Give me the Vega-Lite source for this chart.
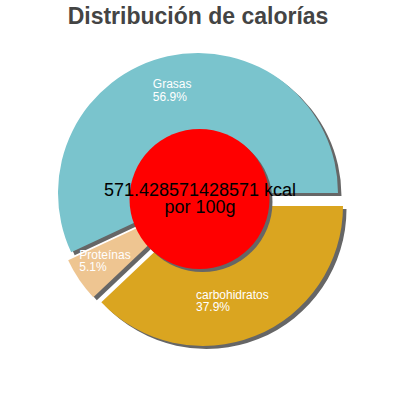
{
  "$schema": "https://vega.github.io/schema/vega-lite/v6.json",
  "width": 396,
  "height": 306,
  "autosize": {"type": "none"},
  "padding": {"top": 40, "left": 0, "right": 4, "bottom": 54},
  "background": "white",
  "config": {"view": {"stroke": null}, "font": "Liberation Sans"},
  "title": {
    "text": "Distribución de calorías",
    "fontSize": 23,
    "fontWeight": "bold",
    "color": "#444444",
    "anchor": "middle",
    "baseline": "alphabetic",
    "offset": 15,
    "dy": 22
  },
  "layer": [
    {
      "data": {
        "values": [
          {"nutriente": "Grasas", "porcentaje": 0.569},
          {"nutriente": "Proteínas", "porcentaje": 0.051},
          {"nutriente": "carbohidratos", "porcentaje": 0.379}
        ]
      },
      "encoding": {
        "theta": {
          "field": "porcentaje",
          "type": "quantitative",
          "stack": true,
          "scale": {"range": [1.5708, -4.7124]}
        },
        "order": {"field": "nutriente", "sort": "ascending"},
        "detail": {"field": "nutriente"}
      },
      "layer": [
        {
          "mark": {"type": "arc", "radius": 140, "xOffset": 3.5, "yOffset": 3},
          "encoding": {
            "color": {"value": "#666666"},
            "opacity": {"condition": {"test": "datum.nutriente === 'Grasas'", "value": 1}, "value": 0}
          }
        },
        {
          "mark": {"type": "arc", "radius": 140, "xOffset": 0.5, "yOffset": 11},
          "encoding": {
            "color": {"value": "#666666"},
            "opacity": {"condition": {"test": "datum.nutriente === 'Proteínas'", "value": 1}, "value": 0}
          }
        },
        {
          "mark": {"type": "arc", "radius": 140, "xOffset": 8.5, "yOffset": 16},
          "encoding": {
            "color": {"value": "#666666"},
            "opacity": {"condition": {"test": "datum.nutriente === 'carbohidratos'", "value": 1}, "value": 0}
          }
        },
        {
          "mark": {"type": "arc", "radius": 140},
          "encoding": {
            "color": {
              "field": "nutriente",
              "type": "nominal",
              "legend": null,
              "scale": {"domain": ["Grasas", "Proteínas", "carbohidratos"], "range": ["#7ac4cd", "#eec591", "#daa520"]}
            },
            "opacity": {"condition": {"test": "datum.nutriente === 'Grasas'", "value": 1}, "value": 0}
          }
        },
        {
          "mark": {"type": "arc", "radius": 140, "xOffset": -3, "yOffset": 8},
          "encoding": {
            "color": {"field": "nutriente", "type": "nominal", "legend": null},
            "opacity": {"condition": {"test": "datum.nutriente === 'Proteínas'", "value": 1}, "value": 0}
          }
        },
        {
          "mark": {"type": "arc", "radius": 140, "xOffset": 5, "yOffset": 13},
          "encoding": {
            "color": {"field": "nutriente", "type": "nominal", "legend": null},
            "opacity": {"condition": {"test": "datum.nutriente === 'carbohidratos'", "value": 1}, "value": 0}
          }
        },
        {
          "mark": {"type": "text", "radius": 100, "align": "left", "baseline": "alphabetic", "fontSize": 12, "color": "white", "dx": -23.5, "dy": -7},
          "encoding": {
            "text": {"field": "nutriente"},
            "opacity": {"condition": {"test": "datum.nutriente === 'Grasas'", "value": 1}, "value": 0}
          }
        },
        {
          "mark": {"type": "text", "radius": 100, "align": "left", "baseline": "alphabetic", "fontSize": 12, "color": "white", "dx": -23.5, "dy": 6},
          "encoding": {
            "text": {"field": "porcentaje", "format": ".1%"},
            "opacity": {"condition": {"test": "datum.nutriente === 'Grasas'", "value": 1}, "value": 0}
          }
        },
        {
          "mark": {"type": "text", "radius": 100, "align": "left", "baseline": "alphabetic", "fontSize": 12, "color": "white", "dx": -36, "dy": 10},
          "encoding": {
            "text": {"field": "nutriente"},
            "opacity": {"condition": {"test": "datum.nutriente === 'Proteínas'", "value": 1}, "value": 0}
          }
        },
        {
          "mark": {"type": "text", "radius": 100, "align": "left", "baseline": "alphabetic", "fontSize": 12, "color": "white", "dx": -36, "dy": 22},
          "encoding": {
            "text": {"field": "porcentaje", "format": ".1%"},
            "opacity": {"condition": {"test": "datum.nutriente === 'Proteínas'", "value": 1}, "value": 0}
          }
        },
        {
          "mark": {"type": "text", "radius": 100, "align": "left", "baseline": "alphabetic", "fontSize": 12, "color": "white", "dx": -39, "dy": 13},
          "encoding": {
            "text": {"field": "nutriente"},
            "opacity": {"condition": {"test": "datum.nutriente === 'carbohidratos'", "value": 1}, "value": 0}
          }
        },
        {
          "mark": {"type": "text", "radius": 100, "align": "left", "baseline": "alphabetic", "fontSize": 12, "color": "white", "dx": -39, "dy": 25},
          "encoding": {
            "text": {"field": "porcentaje", "format": ".1%"},
            "opacity": {"condition": {"test": "datum.nutriente === 'carbohidratos'", "value": 1}, "value": 0}
          }
        }
      ]
    },
    {
      "data": {"values": [{"energia": "571.428571428571 kcal", "base": "por 100g"}]},
      "layer": [
        {
          "mark": {"type": "circle", "size": 19600, "opacity": 1, "color": "#666666", "xOffset": 4.5, "yOffset": 9}
        },
        {
          "mark": {"type": "circle", "size": 19600, "opacity": 1, "color": "#ff0000", "xOffset": 1.5, "yOffset": 6}
        },
        {
          "mark": {"type": "text", "fontSize": 18, "color": "black", "align": "center", "baseline": "alphabetic", "dx": 2, "dy": 3},
          "encoding": {"text": {"field": "energia"}}
        },
        {
          "mark": {"type": "text", "fontSize": 18, "color": "black", "align": "center", "baseline": "alphabetic", "dx": 2, "dy": 20},
          "encoding": {"text": {"field": "base"}}
        }
      ]
    }
  ]
}
